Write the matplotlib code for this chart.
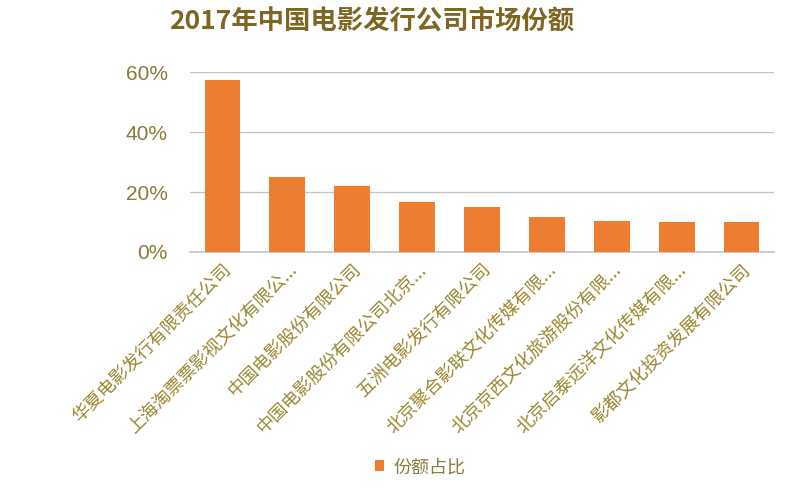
import matplotlib
matplotlib.use("Agg")
import matplotlib.pyplot as plt
from matplotlib.ticker import FuncFormatter

plt.rcParams["font.family"] = ["Noto Sans CJK SC", "DejaVu Sans"]

# ---------------------------------------------------------------------------
# Data
# ---------------------------------------------------------------------------
companies = [
    "华夏电影发行有限责任公司",
    "上海淘票票影视文化有限公...",
    "中国电影股份有限公司",
    "中国电影股份有限公司北京...",
    "五洲电影发行有限公司",
    "北京聚合影联文化传媒有限...",
    "北京京西文化旅游股份有限...",
    "北京启泰远洋文化传媒有限...",
    "影都文化投资发展有限公司",
]
share = [57.3, 25.0, 22.0, 16.6, 15.0, 11.7, 10.3, 10.1, 10.0]
yticks = [0, 20, 40, 60]

TEXT = "#8a7a3c"
BAR = "#ed7d31"

fig = plt.figure(figsize=(8, 4.98), dpi=100)
ax = fig.add_axes([0.2375, 0.494, 0.73, 0.361])

x = range(len(companies))
bars = ax.bar(x, share, width=0.55, color=BAR, label="份额占比", zorder=3)

ax.set_xlim(-0.5, len(companies) - 0.5)
ax.set_ylim(0, 60)
ax.set_yticks(yticks)
ax.yaxis.set_major_formatter(FuncFormatter(lambda v, _: f"{v:.0f}%"))
ax.grid(axis="y", color="#c4c4c4", lw=0.9, zorder=0)
for s in ["top", "right", "left"]:
    ax.spines[s].set_visible(False)
ax.spines["bottom"].set_color("#c8c8c8")
ax.spines["bottom"].set_linewidth(1.3)
ax.tick_params(axis="y", length=0, pad=16, labelsize=15, labelcolor=TEXT)
ax.tick_params(axis="x", length=0, pad=6)
for lab in ax.get_yticklabels():
    lab.set_family(["Liberation Sans", "DejaVu Sans"])

ax.set_xticks(list(x))
ax.set_xticklabels(companies, rotation=45, ha="right", rotation_mode="anchor",
                   fontsize=13, color="#9a8630")

fig.text(0.465, 0.955, "2017年中国电影发行公司市场份额", ha="center", va="center",
         fontsize=19, fontweight="bold", color="#7d6722")

fig.legend(handles=[bars], loc="center", bbox_to_anchor=(0.525, 0.062), frameon=False,
           fontsize=13, labelcolor=TEXT, handlelength=0.55, handleheight=0.55,
           handletextpad=0.5)

fig.savefig("out.png", dpi=100, facecolor="white")
